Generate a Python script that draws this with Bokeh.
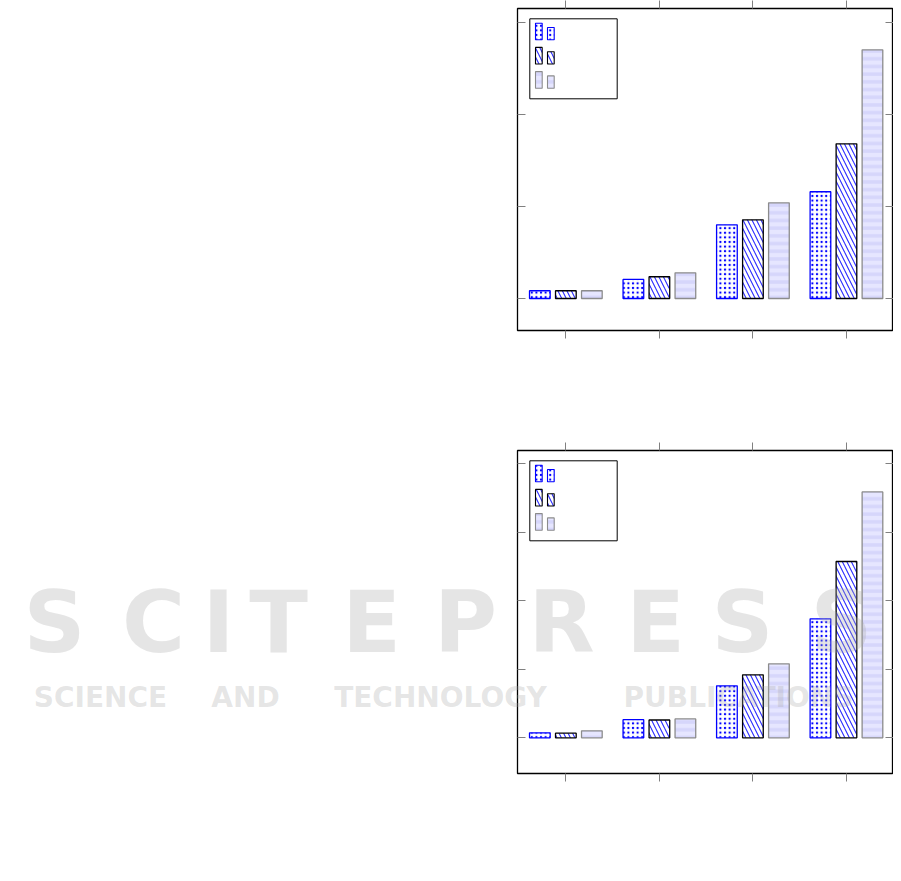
from bokeh.plotting import figure
from bokeh.models import (LinearAxis, FixedTicker, CustomJSTickFormatter, Range1d,
                          ColumnDataSource)
from bokeh.core.properties import value
from bokeh.layouts import column
from bokeh.embed import file_html
from bokeh.resources import INLINE

# ---------------- data ----------------
groups = [1, 2, 3, 4]

# upper chart
top_dots = [8.4, 20.7, 80.1, 116.0]
top_hatch = [8.4, 23.6, 85.5, 168.1]
top_stripe = [8.4, 27.9, 104.0, 270.3]
top_yticks = [0, 100, 200, 300]

# lower chart
bot_dots = [7.3, 26.5, 75.9, 173.7]
bot_hatch = [6.8, 26.0, 92.0, 257.4]
bot_stripe = [10.2, 27.5, 108.0, 359.0]
bot_yticks = [0, 100, 200, 300, 400]

# watermark text (publisher logo over the page)
wm_letters = list("SCITEPRESS")
wm_words = ["SCIENCE", "AND", "TECHNOLOGY", "PUBLICATIONS"]

# ---------------- styles ----------------
STY = {
    "dots": dict(fill_color="white", line_color="#0000ff", line_width=1.3,
                 hatch_pattern=".", hatch_color="#0000ff", hatch_scale=4.6,
                 hatch_weight=1.0),
    "hatch": dict(fill_color="white", line_color="black", line_width=1.3,
                  hatch_pattern="\\", hatch_color="#2a2aff", hatch_scale=9,
                  hatch_weight=1.1),
    "stripe": dict(fill_color="#e6e6ff", line_color="#8c8c8c", line_width=1.3,
                   hatch_pattern="-", hatch_color="#d6d6fb", hatch_scale=7.7,
                   hatch_weight=3.5),
}
KEYS = ["dots", "hatch", "stripe"]
OFFS = [-0.278, 0.0, 0.278]
BAR_W = 0.221
X0, X1 = 0.483, 4.503
FW = 376


def make_chart(dots, hatch, stripe, yticks, y0, y1, fh, btop, bbot):
    p = figure(frame_width=FW, frame_height=fh,
               x_range=Range1d(X0, X1), y_range=Range1d(y0, y1),
               output_backend="svg", toolbar_location=None,
               min_border_left=517, min_border_right=0,
               min_border_top=btop, min_border_bottom=bbot,
               x_axis_location=None, y_axis_location=None)
    p.grid.visible = False
    p.outline_line_color = "black"
    p.outline_line_width = 1.3
    p.outline_line_alpha = 1.0
    p.background_fill_color = "white"
    p.border_fill_color = "white"

    for loc, tin, tout, isx in [("below", 0, 8, True), ("above", 0, 8, True),
                                ("left", 8, 0, False), ("right", 8, 0, False)]:
        ax = LinearAxis(ticker=FixedTicker(ticks=groups if isx else yticks),
                        formatter=CustomJSTickFormatter(code="return ''"),
                        major_tick_in=tin, major_tick_out=tout,
                        minor_tick_line_color=None, axis_line_color=None,
                        major_tick_line_color="#808080", major_tick_line_width=1,
                        major_label_standoff=0, major_label_text_font_size="0px")
        p.add_layout(ax, loc)

    for vals, key, off in zip([dots, hatch, stripe], KEYS, OFFS):
        src = ColumnDataSource(dict(x=[g + off for g in groups], top=vals))
        p.vbar(x="x", top="top", bottom=0, width=BAR_W, source=src, **STY[key])

    # legend (frame-relative pixel offsets -> data)
    def px(dx):
        return X0 + dx / FW * (X1 - X0)

    def py(dy):
        return y1 - dy / fh * (y1 - y0)

    p.quad(left=px(12.3), right=px(99.7), top=py(10.3), bottom=py(90.3),
           fill_color="white", line_color="black", line_width=1)
    for i, key in enumerate(KEYS):
        t1 = 14.7 + 24.2 * i
        b = t1 + 16.6
        st = dict(STY[key])
        st["line_width"] = 1.1
        p.quad(left=[px(18), px(30)], right=[px(24.7), px(36.7)],
               top=[py(t1), py(t1 + 4.3)], bottom=[py(b), py(b)], **st)
    return p


p1 = make_chart(top_dots, top_hatch, top_stripe, top_yticks,
                -34.8, 315.2, 322, 8, 110)
p2 = make_chart(bot_dots, bot_hatch, bot_stripe, bot_yticks,
                -52.1, 419.4, 323, 10, 10)

# ---------------- watermark overlay (transparent figure on top of page) ----
WM_TOP = 440
WM_W, WM_H = 893, 343
wm = figure(width=WM_W, height=WM_H,
            x_range=Range1d(0, WM_W), y_range=Range1d(0, WM_H),
            output_backend="svg", toolbar_location=None, min_border=0,
            x_axis_location=None, y_axis_location=None)
wm.grid.visible = False
wm.outline_line_color = None
wm.background_fill_alpha = 0
wm.border_fill_alpha = 0
wm.styles = {"position": "absolute", "top": f"{WM_TOP}px", "left": "0px",
             "pointer-events": "none"}

letter_cx = [54, 153, 218, 278, 371, 465, 561, 655, 742, 841]
wm.text(x=letter_cx, y=[WM_H - (621 - WM_TOP)] * len(wm_letters), text=wm_letters,
        text_align="center", text_baseline="middle",
        text_font=value("DejaVu Sans"), text_font_style="bold",
        text_font_size="86px", text_color="#a8a8a8", text_alpha=0.3)
word_cx = [100, 245, 440, 738]
wm.text(x=word_cx, y=[WM_H - (697 - WM_TOP)] * len(wm_words), text=wm_words,
        text_align="center", text_baseline="middle",
        text_font=value("DejaVu Sans"), text_font_style="bold",
        text_font_size="28px", text_color="#a8a8a8", text_alpha=0.3)

layout = column(p1, p2, spacing=0)

open("out.html", "w").write(file_html([layout, wm], INLINE))
